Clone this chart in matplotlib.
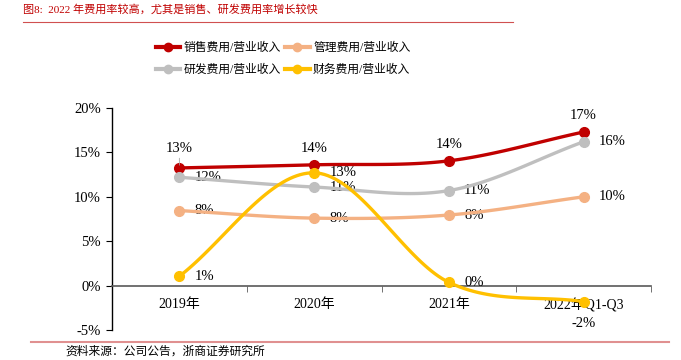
import numpy as np
import matplotlib.pyplot as plt
from matplotlib.lines import Line2D

plt.rcParams['font.family'] = ['Liberation Serif', 'Noto Sans CJK SC']

categories = ["2019年", "2020年", "2021年", "2022年Q1-Q3"]
sales = [13.25, 13.6, 14.05, 17.3]
admin = [8.45, 7.6, 7.95, 10.0]
rnd = [12.2, 11.1, 10.7, 16.2]
finance = [1.05, 12.7, 0.37, -1.8]

names = ["销售费用/营业收入", "管理费用/营业收入", "研发费用/营业收入", "财务费用/营业收入"]
colors = ["#C00000", "#F4B183", "#BFBFBF", "#FFC000"]


def smooth(xs, ys, n=40):
    # Catmull-Rom style smoothing, like Excel smoothed lines
    xs = np.asarray(xs, float)
    ys = np.asarray(ys, float)
    px = np.concatenate([[2 * xs[0] - xs[1]], xs, [2 * xs[-1] - xs[-2]]])
    py = np.concatenate([[2 * ys[0] - ys[1]], ys, [2 * ys[-1] - ys[-2]]])
    outx, outy = [], []
    for i in range(1, len(px) - 2):
        t = np.linspace(0, 1, n)
        for p, out in ((px, outx), (py, outy)):
            p0, p1, p2, p3 = p[i - 1], p[i], p[i + 1], p[i + 2]
            c1 = p1 + (p2 - p0) / 6
            c2 = p2 - (p3 - p1) / 6
            out.extend((1 - t) ** 3 * p1 + 3 * (1 - t) ** 2 * t * c1
                       + 3 * (1 - t) * t ** 2 * c2 + t ** 3 * p2)
    return np.array(outx), np.array(outy)


fig = plt.figure(figsize=(6.81, 3.60), dpi=100)
ax = fig.add_axes([112 / 681, 30 / 360, (651 - 112) / 681, (330 - 108) / 360])

x = np.arange(len(categories))
series = [sales, admin, rnd, finance]
for k in [1, 2, 0, 3]:
    sx, sy = smooth(x, series[k])
    ax.plot(sx, sy, color=colors[k], lw=2.4, solid_capstyle='round', zorder=3 + k)
    ax.plot(x, series[k], 'o', color=colors[k], ms=7, zorder=3 + k)

ax.set_xlim(-0.5, 3.5)
ax.set_ylim(-5, 20)
yt = [-5, 0, 5, 10, 15, 20]
ax.set_yticks(yt)
ax.set_yticklabels([f"{v}%" for v in yt], fontsize=10.5)
ax.set_xticks(x)
ax.set_xticklabels(categories, fontsize=10.5)
ax.tick_params(axis='x', length=0, pad=9)
ax.set_xticks([0.5, 1.5, 2.5, 3.5], minor=True)
ax.tick_params(axis='x', which='minor', length=4, direction='out', color='#595959')
ax.tick_params(axis='y', length=4, direction='out', color='black', pad=4)
for s in ['top', 'right']:
    ax.spines[s].set_visible(False)
ax.spines['bottom'].set_position(('data', 0))
ax.spines['bottom'].set_color('#595959')
ax.spines['bottom'].set_linewidth(1.2)
ax.spines['left'].set_linewidth(1.0)

fs = 10.5
for i, v in enumerate(sales):
    if i == 0:
        ax.annotate(f"{round(v):.0f}%", (i, v), xytext=(0, 9), textcoords='offset points',
                    ha='center', va='bottom', fontsize=fs,
                    arrowprops=dict(arrowstyle='-', color='#A6A6A6', lw=0.6,
                                    shrinkA=0, shrinkB=2))
    else:
        ax.annotate(f"{round(v):.0f}%", (i, v), xytext=(0, 7), textcoords='offset points',
                    ha='center', va='bottom', fontsize=fs)
for vals in (rnd, admin):
    for i, v in enumerate(vals):
        ax.annotate(f"{round(v):.0f}%", (i, v), xytext=(11, 0), textcoords='offset points',
                    ha='left', va='center', fontsize=fs)
for i, v in enumerate(finance):
    if v < 0:
        ax.annotate(f"{round(v):.0f}%", (i, v), xytext=(0, -11), textcoords='offset points',
                    ha='center', va='top', fontsize=fs)
    else:
        ax.annotate(f"{round(v):.0f}%", (i, v), xytext=(11, 0), textcoords='offset points',
                    ha='left', va='center', fontsize=fs)

handles = [Line2D([], [], color=c, lw=3, marker='o', ms=6) for c in colors]
leg_order = [0, 2, 1, 3]
fig.legend([handles[i] for i in leg_order], [names[i] for i in leg_order],
           loc='center', bbox_to_anchor=(283 / 681, 1 - 59 / 360), ncol=2,
           frameon=False, fontsize=8.5, handlelength=2.1, columnspacing=0.3,
           handletextpad=0.3, labelspacing=0.9)

fig.text(23 / 681, 1 - 9 / 360, "图8:  2022 年费用率较高，尤其是销售、研发费用率增长较快",
         color="#C00000", fontsize=8, va='center', ha='left')
fig.add_artist(Line2D([23 / 681, 513 / 681], [1 - 22 / 360] * 2, color="#D05050", lw=0.8))
fig.add_artist(Line2D([31 / 681, 669 / 681], [1 - 342 / 360] * 2, color="#E09090", lw=1.5))
fig.text(65 / 681, 1 - 352 / 360, "资料来源：公司公告，浙商证券研究所", fontsize=8.5, va='center')

fig.savefig("out.png", dpi=100)
